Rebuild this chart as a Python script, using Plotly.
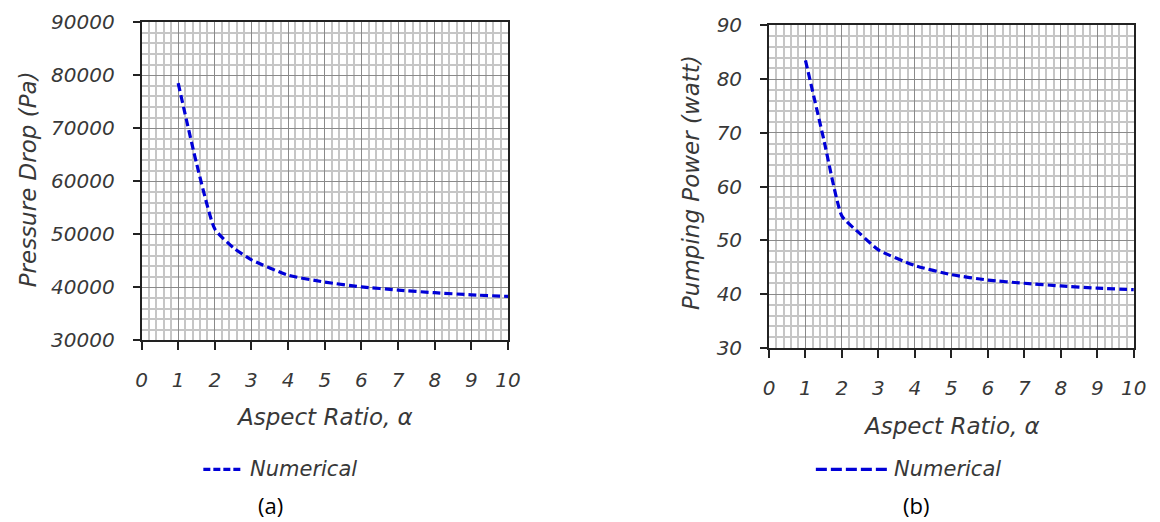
import plotly.graph_objects as go

# Sampled results: aspect ratio vs. pressure drop / pumping power
aspect_ratio = [1, 1.5, 2, 2.5, 3, 4, 5, 6, 7, 8, 9, 10]
pressure_drop = [78500, 63400, 51000, 47500, 45200, 42300, 41000, 40100, 39500, 39000, 38600, 38300]
pumping_power = [83.5, 68.8, 54.5, 51.2, 48.2, 45.3, 43.6, 42.6, 42.0, 41.5, 41.1, 40.8]

x_range = [0, 10]
pressure_range = [30000, 90000]
power_range = [30, 90]

series_name = "Numerical"
x_title = "Aspect Ratio, α"
pressure_title = "Pressure Drop (Pa)"
power_title = "Pumping Power (watt)"
panel_labels = ["(a)", "(b)"]

# figure size and the page placement used to turn page pixels into paper fractions
FW, FH = 1166, 531
OFF_X, OFF_Y = 2.5, 9.0
SCALE_X, SCALE_Y = 0.993, 0.966

LINE_COLOR = "rgb(0,0,215)"
TEXT_COLOR = "#383838"
TICK_FONT = dict(family="DejaVu Sans", size=20, color=TEXT_COLOR, style="italic")
TITLE_FONT = dict(family="DejaVu Sans", size=23, color=TEXT_COLOR, style="italic")
LEGEND_FONT = dict(family="DejaVu Sans", size=21, color=TEXT_COLOR, style="italic")
LABEL_FONT = dict(family="Open Sans", size=22, color="black")

# plot-area boxes in page pixels: (left, right, top, bottom)
boxes = [(139.3, 509.3, 19.3, 341.3), (772.7, 1141.0, 22.5, 348.7)]


def px_x(v):
    return ((v - OFF_X) / SCALE_X) / FW


def px_y(v):
    return 1 - ((v - OFF_Y) / SCALE_Y) / FH


line_style = dict(color=LINE_COLOR, width=3.2, dash="8px,4px", shape="spline", smoothing=0.5)

fig = go.Figure()
fig.add_trace(go.Scatter(x=aspect_ratio, y=pressure_drop, name=series_name, mode="lines",
                         line=line_style, xaxis="x", yaxis="y", showlegend=False))
fig.add_trace(go.Scatter(x=aspect_ratio, y=pumping_power, name=series_name, mode="lines",
                         line=line_style, xaxis="x2", yaxis="y2", showlegend=False))


def x_axis(box):
    return dict(domain=[px_x(box[0]), px_x(box[1])], range=x_range, tick0=0, dtick=1,
                ticks="outside", ticklen=8, tickwidth=1.5, tickcolor="#222",
                showline=True, linecolor="#222", linewidth=1.8, mirror=True,
                showgrid=True, gridcolor="#8a8a8a", gridwidth=1.2,
                minor=dict(dtick=0.2, showgrid=True, gridcolor="#c6c6c6", gridwidth=2),
                zeroline=False, tickfont=TICK_FONT, ticklabelstandoff=13, fixedrange=True)


def y_axis(box, rng, step, minor_step, anchor):
    return dict(domain=[px_y(box[3]), px_y(box[2])], range=rng, tick0=rng[0], dtick=step,
                tickformat="d", ticks="outside", ticklen=7, tickwidth=1.5, tickcolor="#222",
                showline=True, linecolor="#222", linewidth=1.8, mirror=True,
                showgrid=True, gridcolor="#8a8a8a", gridwidth=1.2,
                minor=dict(dtick=minor_step, showgrid=True, gridcolor="#c6c6c6", gridwidth=2),
                zeroline=False, tickfont=TICK_FONT, ticklabelstandoff=14, anchor=anchor,
                fixedrange=True)


fig.update_layout(
    width=FW, height=FH, autosize=False,
    margin=dict(l=0, r=0, t=0, b=0),
    paper_bgcolor="white", plot_bgcolor="white",
    xaxis=dict(x_axis(boxes[0]), anchor="y"),
    yaxis=y_axis(boxes[0], pressure_range, 10000, 2000, "x"),
    xaxis2=dict(x_axis(boxes[1]), anchor="y2"),
    yaxis2=y_axis(boxes[1], power_range, 10, 2, "x2"),
)

annotations = []
shapes = []
# axis titles
annotations.append(dict(text=x_title, x=px_x(324), y=px_y(419), xref="paper", yref="paper",
                        showarrow=False, font=TITLE_FONT, xanchor="center", yanchor="middle"))
annotations.append(dict(text=x_title, x=px_x(957), y=px_y(428), xref="paper", yref="paper",
                        showarrow=False, font=TITLE_FONT, xanchor="center", yanchor="middle"))
annotations.append(dict(text=pressure_title, x=px_x(25), y=px_y(178), xref="paper", yref="paper",
                        showarrow=False, font=TITLE_FONT, textangle=-90,
                        xanchor="center", yanchor="middle"))
annotations.append(dict(text=power_title, x=px_x(694), y=px_y(182), xref="paper", yref="paper",
                        showarrow=False, font=TITLE_FONT, textangle=-90,
                        xanchor="center", yanchor="middle"))

# legend keys and panel labels
legend_keys = [(201.7, 241.7, 247.0, "7px,3px"), (820.0, 891.7, 897.0, "11px,4px")]
for (x0, x1, tx, dash), lab, lx in zip(legend_keys, panel_labels, [269, 921]):
    shapes.append(dict(type="line", xref="paper", yref="paper",
                       x0=px_x(x0), x1=px_x(x1), y0=px_y(471.7), y1=px_y(471.7),
                       line=dict(color=LINE_COLOR, width=3.2, dash=dash)))
    annotations.append(dict(text=series_name, x=px_x(tx), y=px_y(471.7), xref="paper",
                            yref="paper", showarrow=False, xanchor="left", yanchor="middle",
                            font=LEGEND_FONT))
    annotations.append(dict(text=lab, x=px_x(lx), y=px_y(508), xref="paper", yref="paper",
                            showarrow=False, xanchor="center", yanchor="middle",
                            font=LABEL_FONT))

fig.update_layout(annotations=annotations, shapes=shapes)
fig.write_html("out.html")
